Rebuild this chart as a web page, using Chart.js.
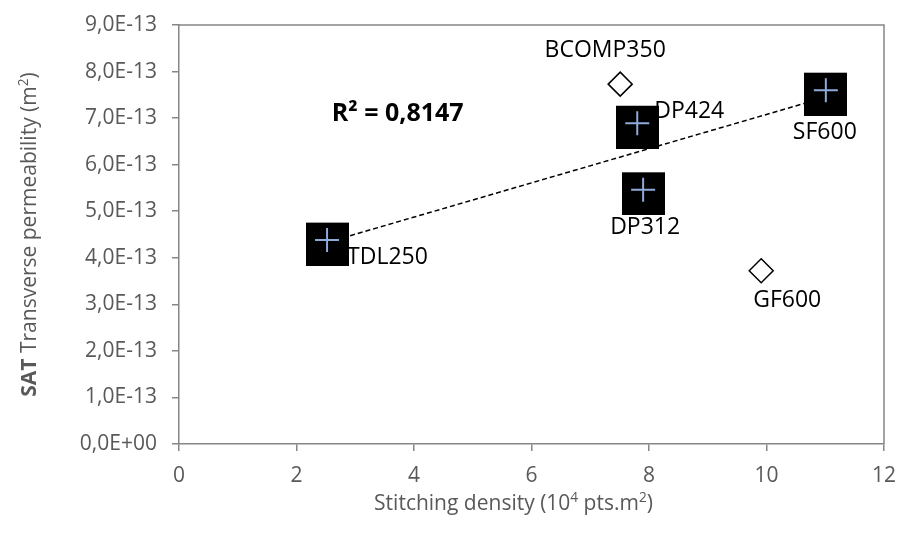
<!DOCTYPE html>
<html>
<head>
    <title>SAT Transverse permeability</title>
    <script src="https://cdn.jsdelivr.net/npm/chart.js"></script>
    <style>
        body { margin: 0; background: #fff; }
    </style>
</head>
<body>
    <canvas id="perm_chart" width="897" height="541"></canvas>
    <script>
        // stitched fabrics (square + cross markers, used for the trendline)
        const stitchedNames = ['TDL250', 'DP424', 'DP312', 'SF600'];
        const stitchedX = [2.52, 7.80, 7.90, 11.01];
        const stitchedY = [4.38e-13, 6.89e-13, 5.46e-13, 7.60e-13];

        // other fabrics (open diamonds)
        const otherNames = ['BCOMP350', 'GF600'];
        const otherX = [7.51, 9.91];
        const otherY = [7.73e-13, 3.72e-13];

        // linear trendline ends
        const trendX = [2.52, 11.01];
        const trendY = [4.33e-13, 7.45e-13];
        const rSquared = '0,8147';

        const xTickValues = [0, 2, 4, 6, 8, 10, 12];
        const xTickLabels = ['0', '2', '4', '6', '8', '10', '12'];
        const yTickValues = [0, 1e-13, 2e-13, 3e-13, 4e-13, 5e-13, 6e-13, 7e-13, 8e-13, 9e-13];
        const yTickLabels = ['0,0E+00', '1,0E-13', '2,0E-13', '3,0E-13', '4,0E-13',
                             '5,0E-13', '6,0E-13', '7,0E-13', '8,0E-13', '9,0E-13'];

        const FONT = '"Open Sans", "Noto Sans", sans-serif';
        const AXIS_GREY = '#868686';
        const TEXT_GREY = '#595959';

        // where each point name sits relative to its marker
        const labelPlace = {
            TDL250:   { align: 'left',   dx: 20,  dy: 17 },
            DP424:    { align: 'left',   dx: 17,  dy: -12 },
            DP312:    { align: 'center', dx: 2,   dy: 38 },
            SF600:    { align: 'center', dx: -1,  dy: 42 },
            BCOMP350: { align: 'center', dx: -15, dy: -34 },
            GF600:    { align: 'center', dx: 26,  dy: 30 }
        };

        // black square, drawn a little below the point like the original
        function squareMarker() {
            const c = document.createElement('canvas');
            c.width = 43;
            c.height = 51;
            const g = c.getContext('2d');
            g.fillStyle = '#000';
            g.fillRect(0, 8, 43, 43);
            return c;
        }

        function toPoints(xs, ys) {
            return xs.map((x, i) => ({ x: x, y: ys[i] }));
        }

        function drawRich(ctx, parts, cx, cy, size, color) {
            let total = 0;
            parts.forEach(p => {
                ctx.font = (p.bold ? 'bold ' : '') + (p.sup ? size * 0.65 : size) + 'px ' + FONT;
                p.w = ctx.measureText(p.t).width;
                total += p.w;
            });
            let x = cx - total / 2;
            ctx.fillStyle = color;
            ctx.textAlign = 'left';
            ctx.textBaseline = 'middle';
            parts.forEach(p => {
                ctx.font = (p.bold ? 'bold ' : '') + (p.sup ? size * 0.65 : size) + 'px ' + FONT;
                ctx.fillText(p.t, x, p.sup ? cy - size * 0.3 : cy);
                x += p.w;
            });
        }

        const decorations = {
            id: 'decorations',
            afterDatasetsDraw(chart) {
                const ctx = chart.ctx;
                const area = chart.chartArea;
                const xs = chart.scales.x;
                const ys = chart.scales.y;
                ctx.save();

                // top and right edges of the plot box
                ctx.strokeStyle = AXIS_GREY;
                ctx.lineWidth = 1.5;
                ctx.beginPath();
                ctx.moveTo(area.left, area.top);
                ctx.lineTo(area.right, area.top);
                ctx.lineTo(area.right, area.bottom);
                ctx.stroke();

                // point names
                ctx.font = '23px ' + FONT;
                ctx.fillStyle = '#000';
                ctx.textBaseline = 'middle';
                const names = stitchedNames.concat(otherNames);
                const px = stitchedX.concat(otherX);
                const py = stitchedY.concat(otherY);
                names.forEach((name, i) => {
                    const p = labelPlace[name];
                    ctx.textAlign = p.align;
                    ctx.fillText(name, xs.getPixelForValue(px[i]) + p.dx, ys.getPixelForValue(py[i]) + p.dy);
                });

                // R² of the trendline
                ctx.font = 'bold 25px ' + FONT;
                ctx.textAlign = 'left';
                ctx.fillText('R² = ' + rSquared, xs.getPixelForValue(2.6), ys.getPixelForValue(7.1e-13));

                // axis titles
                drawRich(ctx, [
                    { t: 'Stitching density (10' }, { t: '4', sup: true },
                    { t: ' pts.m' }, { t: '2', sup: true }, { t: ')' }
                ], (area.left + area.right) / 2 - 18, 504, 21, TEXT_GREY);

                ctx.translate(30, (area.top + area.bottom) / 2);
                ctx.rotate(-Math.PI / 2);
                drawRich(ctx, [
                    { t: 'SAT', bold: true }, { t: ' Transverse permeability (m' },
                    { t: '2', sup: true }, { t: ')' }
                ], 0, 0, 21, TEXT_GREY);

                ctx.restore();
            }
        };

        const ctx = document.getElementById('perm_chart');
        const chart = new Chart(ctx, {
            type: 'scatter',
            data: {
                datasets: [
                    {
                        label: 'cross',
                        data: toPoints(stitchedX, stitchedY),
                        pointStyle: 'cross',
                        pointRadius: 12,
                        borderColor: '#8eaadb',
                        borderWidth: 2
                    },
                    {
                        label: 'stitched',
                        data: toPoints(stitchedX, stitchedY),
                        pointStyle: squareMarker(),
                        pointRadius: 1,
                        borderWidth: 0
                    },
                    {
                        label: 'other',
                        data: toPoints(otherX, otherY),
                        pointStyle: 'rectRot',
                        pointRadius: 12,
                        backgroundColor: '#fff',
                        borderColor: '#000',
                        borderWidth: 1.5
                    },
                    {
                        label: 'trend',
                        data: toPoints(trendX, trendY),
                        showLine: true,
                        pointRadius: 0,
                        borderColor: '#000',
                        borderWidth: 1.5,
                        borderDash: [5, 3]
                    }
                ]
            },
            options: {
                responsive: false,
                animation: false,
                devicePixelRatio: 1,
                layout: { autoPadding: false, padding: { top: 25, right: 13, left: 0, bottom: 0 } },
                plugins: {
                    legend: { display: false },
                    tooltip: { enabled: false }
                },
                scales: {
                    x: {
                        type: 'linear',
                        min: 0,
                        max: 12,
                        afterBuildTicks: axis => { axis.ticks = xTickValues.map(v => ({ value: v })); },
                        afterFit: axis => { axis.height = 97; axis.paddingLeft = 0; axis.paddingRight = 0; },
                        grid: { drawOnChartArea: false, drawTicks: true, tickLength: 7, color: AXIS_GREY, lineWidth: 1.5 },
                        border: { display: true, color: AXIS_GREY, width: 1.5 },
                        ticks: {
                            padding: 12,
                            color: TEXT_GREY,
                            font: { family: FONT, size: 21 },
                            maxRotation: 0,
                            callback: (v, i) => xTickLabels[i]
                        }
                    },
                    y: {
                        type: 'linear',
                        min: 0,
                        max: 9e-13,
                        afterBuildTicks: axis => { axis.ticks = yTickValues.map(v => ({ value: v })); },
                        afterFit: axis => { axis.width = 179; axis.paddingTop = 0; axis.paddingBottom = 0; },
                        grid: { drawOnChartArea: false, drawTicks: true, tickLength: 7, color: AXIS_GREY, lineWidth: 1.5 },
                        border: { display: true, color: AXIS_GREY, width: 1.5 },
                        ticks: {
                            padding: 15,
                            color: TEXT_GREY,
                            font: { family: FONT, size: 21 },
                            callback: (v, i) => yTickLabels[i]
                        }
                    }
                }
            },
            plugins: [decorations]
        });
    </script>
</body>
</html>
